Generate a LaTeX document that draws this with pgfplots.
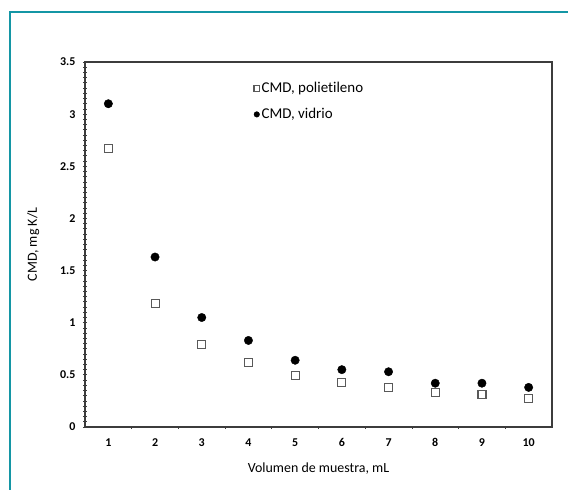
\documentclass[border=0pt]{standalone}
\usepackage{pgfplots}
\pgfplotsset{compat=1.18}
\usepackage{fontspec}
\setmainfont{Carlito}[Ligatures=NoCommon]
\definecolor{frameteal}{RGB}{20,150,165}
\definecolor{axgray}{RGB}{60,60,60}
\begin{document}
\begin{tikzpicture}
\path[use as bounding box] (0,0) rectangle (568bp,-490bp);
\draw[frameteal, line width=2bp] (10bp,-490bp) -- (10bp,-12bp) -- (568bp,-12bp);
\begin{axis}[
  at={(85bp,-427bp)}, anchor=south west,
  scale only axis, width=467bp, height=365bp,
  xmin=0.5, xmax=10.5, ymin=0, ymax=3.5,
  xtick={1,...,10},
  minor xtick={1.5,2.5,...,9.5},
  ytick={0,0.5,...,3.5},
  minor y tick num=9,
  xtick pos=bottom, ytick pos=left,
  tick align=center,
  major x tick style={draw=none},
  minor tick length=3bp, major tick length=4bp,
  axis line style={axgray, line width=1.4bp},
  every tick/.style={axgray, line width=0.8bp},
  /pgf/number format/assume math mode=true,
  tick label style={font=\fontsize{12}{14}\selectfont\bfseries},
  xticklabel style={yshift=-6bp},
  yticklabel style={xshift=-4bp},
  xlabel={Volumen de muestra, mL},
  ylabel={CMD, mg K/L},
  label style={font=\fontsize{14}{16}\selectfont},
  xlabel style={yshift=-9bp},
  ylabel style={yshift=14bp},
  legend style={draw=none, fill=none, at={(0.355,0.955)}, anchor=north west,
    font=\fontsize{15}{17}\selectfont, row sep=10bp,
    legend cell align=left},
  legend image post style={mark size=2.8bp},
]
\addplot[only marks, mark=square, mark size=4bp, draw=black!65, line width=1.1bp]
coordinates {(1,2.67) (2,1.18) (3,0.79) (4,0.62) (5,0.49) (6,0.43) (7,0.38) (8,0.33) (9,0.31) (10,0.27)};
\addlegendentry{CMD, polietileno}
\addplot[only marks, mark=*, mark size=4.2bp, black]
coordinates {(1,3.10) (2,1.63) (3,1.05) (4,0.83) (5,0.64) (6,0.55) (7,0.53) (8,0.42) (9,0.42) (10,0.38)};
\addlegendentry{CMD, vidrio}
\end{axis}
\end{tikzpicture}
\end{document}
